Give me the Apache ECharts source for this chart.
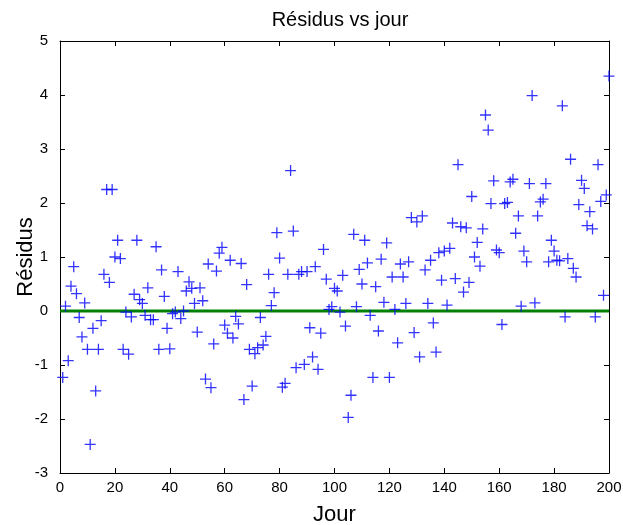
<!DOCTYPE html>
<html>
<head>
<meta charset="utf-8">
<script src="https://cdn.jsdelivr.net/npm/echarts@6/dist/echarts.min.js"></script>
<style>
html,body{margin:0;padding:0;background:#fff;}
#chart{width:623px;height:525px;}
</style>
</head>
<body>
<div id="chart"></div>
<script>
var days = [];
for (var d = 1; d <= 200; d++) days.push(d);
var residus = [
-1.23,0.09,-0.92,0.46,0.82,0.32,-0.12,-0.48,0.15,-0.71,
-2.47,-0.32,-1.48,-0.71,-0.18,0.68,2.25,0.53,2.25,1.00,
1.31,0.97,-0.71,-0.02,-0.80,-0.11,0.31,1.31,0.21,0.14,
-0.08,0.43,-0.16,-0.16,1.19,-0.71,0.76,0.27,-0.32,-0.70,
-0.05,-0.02,0.73,-0.14,0.00,0.37,0.54,0.42,0.14,-0.39,
0.43,0.19,-1.26,0.87,-1.42,-0.61,0.74,1.07,1.18,-0.26,
-0.41,0.94,-0.50,-0.10,-0.24,0.88,-1.64,0.49,-0.71,-1.39,
-0.79,-0.68,-0.12,-0.63,-0.47,0.68,0.10,0.34,1.45,0.98,
-1.41,-1.34,0.68,2.60,1.48,-1.05,0.68,0.73,-0.99,0.73,
-0.31,-0.85,0.82,-1.08,-0.41,1.14,0.59,0.03,0.08,0.42,
0.37,-0.02,0.66,-0.28,-1.97,-1.56,1.42,0.08,0.77,0.50,
1.31,0.89,-0.08,-1.23,0.45,-0.37,0.96,0.16,1.26,-1.23,
0.63,0.03,-0.59,0.87,0.63,0.14,0.91,1.73,-0.40,1.65,
-0.85,1.76,0.76,0.14,0.94,-0.22,-0.76,1.08,0.57,1.11,
0.11,1.16,1.63,0.60,2.71,1.56,0.35,1.54,0.53,2.12,
1.00,1.27,0.83,1.52,3.63,3.35,1.99,2.41,1.13,1.08,
-0.25,1.99,2.01,2.39,2.44,1.44,1.76,0.09,1.11,0.91,
2.36,3.99,0.15,1.76,2.02,2.07,2.36,0.91,1.31,1.11,
0.94,0.93,3.80,-0.11,0.97,2.81,0.79,0.63,1.97,2.42,
2.27,1.58,1.84,1.52,-0.11,2.71,2.03,0.29,2.15,4.35
];
var zeroLineX = [0, 200];
var zeroLineY = [0, 0];
var xTicks = [0, 20, 40, 60, 80, 100, 120, 140, 160, 180, 200];
var yTicks = [-3, -2, -1, 0, 1, 2, 3, 4, 5];

var scatterData = days.map(function (x, i) { return [x, residus[i]]; });
var lineData = zeroLineX.map(function (x, i) { return [x, zeroLineY[i]]; });

var font = 'Liberation Sans, Arial, sans-serif';
var chart = echarts.init(document.getElementById('chart'), null, {renderer: 'canvas'});
var tickCommon = {show: true, inside: true, length: 5, lineStyle: {color: '#000', width: 1}};
chart.setOption({
  animation: false,
  backgroundColor: '#fff',
  title: {
    text: 'Résidus vs jour', left: 335, top: 5, textAlign: 'center',
    textStyle: {fontFamily: font, fontSize: 20, fontWeight: 'normal', color: '#000'}
  },
  grid: {left: 60, right: 14, top: 41, bottom: 52, show: false, containLabel: false, outerBoundsMode: 'none'},
  xAxis: [{
    type: 'value', min: xTicks[0], max: xTicks[xTicks.length - 1], interval: 20,
    name: 'Jour', nameLocation: 'middle', nameGap: 31,
    nameTextStyle: {fontFamily: font, fontSize: 22, color: '#000'},
    axisLine: {show: true, onZero: false, lineStyle: {color: '#000', width: 1}},
    axisTick: tickCommon,
    axisLabel: {fontFamily: font, fontSize: 15, color: '#000', margin: 7},
    splitLine: {show: false}
  }, {
    type: 'value', position: 'top', min: xTicks[0], max: xTicks[xTicks.length - 1], interval: 20,
    axisLine: {show: true, onZero: false, lineStyle: {color: '#000', width: 1}},
    axisTick: tickCommon, axisLabel: {show: false}, splitLine: {show: false}
  }],
  yAxis: [{
    type: 'value', min: yTicks[0], max: yTicks[yTicks.length - 1], interval: 1,
    name: 'Résidus', nameLocation: 'middle', nameGap: 23, nameMoveOverlap: false,
    nameTextStyle: {fontFamily: font, fontSize: 22, color: '#000'},
    axisLine: {show: true, onZero: false, lineStyle: {color: '#000', width: 1}},
    axisTick: tickCommon,
    axisLabel: {fontFamily: font, fontSize: 15, color: '#000', margin: 12},
    splitLine: {show: false}
  }, {
    type: 'value', position: 'right', min: yTicks[0], max: yTicks[yTicks.length - 1], interval: 1,
    axisLine: {show: true, onZero: false, lineStyle: {color: '#000', width: 1}},
    axisTick: tickCommon, axisLabel: {show: false}, splitLine: {show: false}
  }],
  series: [{
    type: 'line', data: lineData, xAxisIndex: 0, yAxisIndex: 0,
    symbol: 'none', lineStyle: {color: '#008000', width: 3}, z: 1
  }, {
    type: 'scatter', data: scatterData, xAxisIndex: 0, yAxisIndex: 0,
    symbol: 'path://M0,5L10,5M5,0L5,10', symbolSize: 11,
    itemStyle: {color: 'rgba(0,0,0,0)', borderColor: '#0000ff', borderWidth: 1.3},
    z: 3
  }]
});
</script>
</body>
</html>
